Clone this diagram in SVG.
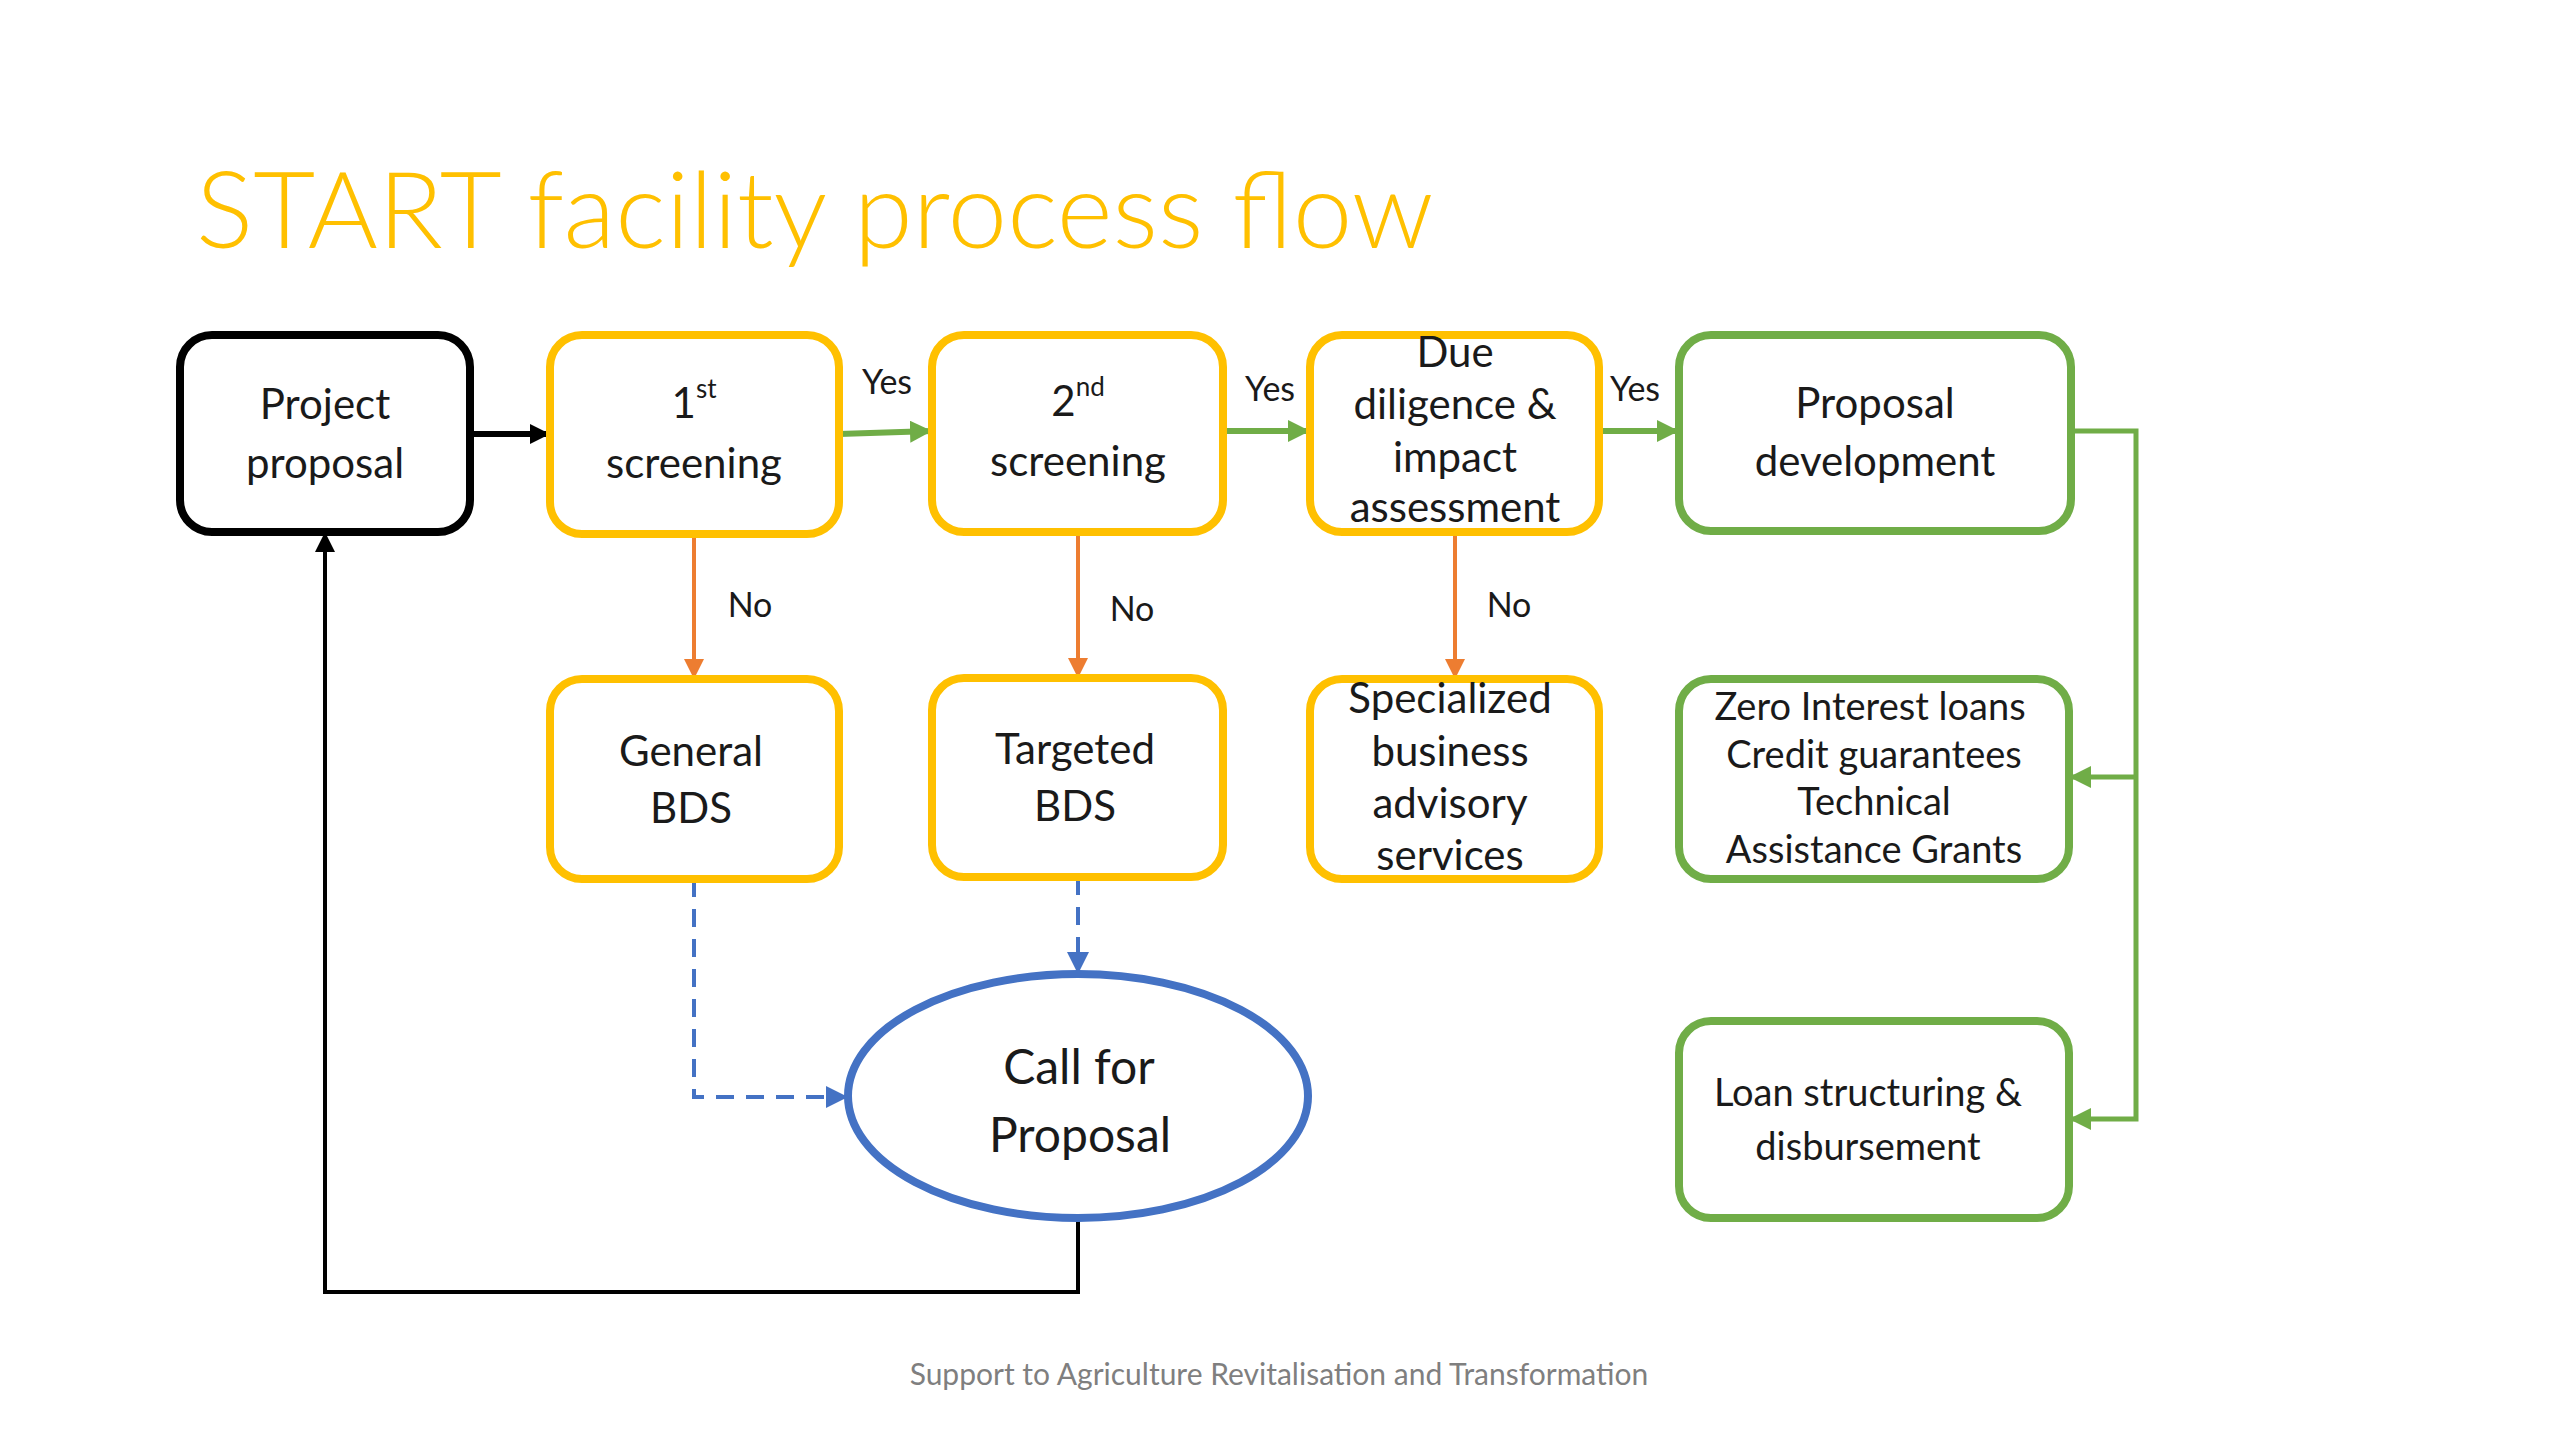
<svg xmlns="http://www.w3.org/2000/svg" width="2560" height="1440" viewBox="0 0 2560 1440">
<style>
.t{font-family:Lato,"Open Sans","Liberation Sans",sans-serif;fill:#1a1a1a;text-anchor:middle;dominant-baseline:central}
.box{fill:#fff;stroke-width:8}
.y{stroke:#FFC000}.g{stroke:#70AD47}.k{stroke:#000}
.lbl{font-family:Lato,"Open Sans","Liberation Sans",sans-serif;fill:#1a1a1a;font-size:34px;text-anchor:middle;dominant-baseline:central}
.c{fill:none}
</style>
<defs>
<marker id="ak" viewBox="0 0 10 10" refX="10" refY="5" markerUnits="userSpaceOnUse" markerWidth="20" markerHeight="20" orient="auto"><path d="M0,0 L10,5 L0,10 z" fill="#000"/></marker>
<marker id="ag" viewBox="0 0 10 10" refX="10" refY="5" markerUnits="userSpaceOnUse" markerWidth="22" markerHeight="22" orient="auto"><path d="M0,0 L10,5 L0,10 z" fill="#70AD47"/></marker>
<marker id="ao" viewBox="0 0 10 10" refX="10" refY="5" markerUnits="userSpaceOnUse" markerWidth="20" markerHeight="20" orient="auto"><path d="M0,0 L10,5 L0,10 z" fill="#ED7D31"/></marker>
<marker id="ab" viewBox="0 0 10 10" refX="10" refY="5" markerUnits="userSpaceOnUse" markerWidth="22" markerHeight="22" orient="auto"><path d="M0,0 L10,5 L0,10 z" fill="#4472C4"/></marker>
</defs>
<rect width="2560" height="1440" fill="#fff"/>
<text x="196" y="248" font-family="Lato,'Open Sans',sans-serif" font-weight="300" font-size="107" fill="#FFC000">START facility process flow</text>

<g id="connectors">
<path class="c" d="M470,434 H550" stroke="#000" stroke-width="6" marker-end="url(#ak)"/>
<path class="c" d="M839,434 L932,431" stroke="#70AD47" stroke-width="6" marker-end="url(#ag)"/>
<path class="c" d="M1223,431 H1310" stroke="#70AD47" stroke-width="6" marker-end="url(#ag)"/>
<path class="c" d="M1599,431 H1679" stroke="#70AD47" stroke-width="6" marker-end="url(#ag)"/>
<path class="c" d="M694,534 V679" stroke="#ED7D31" stroke-width="4" marker-end="url(#ao)"/>
<path class="c" d="M1078,532 V678" stroke="#ED7D31" stroke-width="4" marker-end="url(#ao)"/>
<path class="c" d="M1455,532 V679" stroke="#ED7D31" stroke-width="4" marker-end="url(#ao)"/>
<path class="c" d="M2071,431 H2136 V1119 H2069" stroke="#70AD47" stroke-width="5" marker-end="url(#ag)"/>
<path class="c" d="M2136,777 H2069" stroke="#70AD47" stroke-width="5" marker-end="url(#ag)"/>
<path class="c" d="M694,879 V1097 H848" stroke="#4472C4" stroke-width="4" stroke-dasharray="18 12" marker-end="url(#ab)"/>
<path class="c" d="M1078,877 V974" stroke="#4472C4" stroke-width="4" stroke-dasharray="18 12" marker-end="url(#ab)"/>
<path class="c" d="M1078,1218 V1292 H325 V532" stroke="#000" stroke-width="4" marker-end="url(#ak)"/>
<text class="lbl" x="887" y="380">Yes</text>
<text class="lbl" x="1270" y="387">Yes</text>
<text class="lbl" x="1635" y="387">Yes</text>
<text class="lbl" x="750" y="603">No</text>
<text class="lbl" x="1132" y="607">No</text>
<text class="lbl" x="1509" y="603">No</text>
</g>

<g id="project-proposal">
<rect class="box k" x="180" y="335" width="290" height="197" rx="32"/>
<text class="t" font-size="42" x="325" y="403">Project</text>
<text class="t" font-size="42" x="325" y="462">proposal</text>
</g>
<g id="first-screening">
<rect class="box y" x="550" y="335" width="289" height="199" rx="32"/>
<text class="t" font-size="42" x="694" y="402">1<tspan font-size="26" dy="-14">st</tspan></text>
<text class="t" font-size="42" x="694" y="462">screening</text>
</g>
<g id="second-screening">
<rect class="box y" x="932" y="335" width="291" height="197" rx="32"/>
<text class="t" font-size="42" x="1078" y="400">2<tspan font-size="26" dy="-14">nd</tspan></text>
<text class="t" font-size="42" x="1078" y="460">screening</text>
</g>
<g id="due-diligence">
<rect class="box y" x="1310" y="335" width="289" height="197" rx="32"/>
<text class="t" font-size="42" x="1455" y="351">Due</text>
<text class="t" font-size="42" x="1455" y="403">diligence &amp;</text>
<text class="t" font-size="42" x="1455" y="456">impact</text>
<text class="t" font-size="42" x="1455" y="506">assessment</text>
</g>
<g id="proposal-development">
<rect class="box g" x="1679" y="335" width="392" height="196" rx="32"/>
<text class="t" font-size="42" x="1875" y="402">Proposal</text>
<text class="t" font-size="42" x="1875" y="460">development</text>
</g>
<g id="general-bds">
<rect class="box y" x="550" y="679" width="289" height="200" rx="32"/>
<text class="t" font-size="42" x="691" y="750">General</text>
<text class="t" font-size="42" x="691" y="807">BDS</text>
</g>
<g id="targeted-bds">
<rect class="box y" x="932" y="678" width="291" height="199" rx="32"/>
<text class="t" font-size="42" x="1075" y="748">Targeted</text>
<text class="t" font-size="42" x="1075" y="805">BDS</text>
</g>
<g id="specialized">
<rect class="box y" x="1310" y="679" width="289" height="200" rx="32"/>
<text class="t" font-size="42" x="1450" y="697">Specialized</text>
<text class="t" font-size="42" x="1450" y="750">business</text>
<text class="t" font-size="42" x="1450" y="802">advisory</text>
<text class="t" font-size="42" x="1450" y="854">services</text>
</g>
<g id="financing">
<rect class="box g" x="1679" y="679" width="390" height="200" rx="32"/>
<text class="t" font-size="38" x="1870" y="705">Zero Interest loans</text>
<text class="t" font-size="38" x="1874" y="753">Credit guarantees</text>
<text class="t" font-size="38" x="1874" y="800">Technical</text>
<text class="t" font-size="38" x="1874" y="848">Assistance Grants</text>
</g>
<g id="loan-structuring">
<rect class="box g" x="1679" y="1021" width="390" height="197" rx="32"/>
<text class="t" font-size="38" x="1868" y="1091">Loan structuring &amp;</text>
<text class="t" font-size="38" x="1868" y="1145">disbursement</text>
</g>
<g id="call-for-proposal">
<ellipse cx="1078" cy="1096" rx="230" ry="122" fill="#fff" stroke="#4472C4" stroke-width="8"/>
<text class="t" font-size="48" x="1079" y="1065">Call for</text>
<text class="t" font-size="48" x="1080" y="1133">Proposal</text>
</g>
<text x="1279" y="1373" font-family="Lato,'Open Sans',sans-serif" font-size="30" fill="#7f7f7f" text-anchor="middle" dominant-baseline="central">Support to Agriculture Revitalisation and Transformation</text>
</svg>
